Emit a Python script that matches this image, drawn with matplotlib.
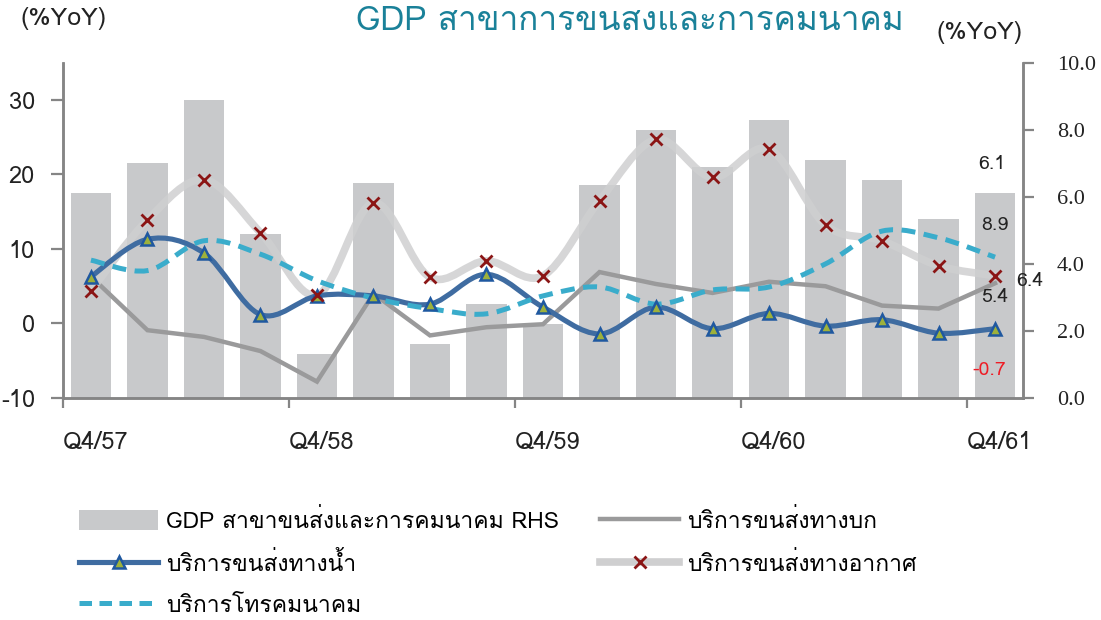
import matplotlib
matplotlib.use("Agg")
import matplotlib.pyplot as plt
import matplotlib.font_manager as fm
from matplotlib.ft2font import FT2Font
from matplotlib.path import Path
from matplotlib.patches import PathPatch, Patch
from matplotlib.lines import Line2D
import numpy as np


# find an installed font that has Thai glyphs
def find_thai_font():
    for f in fm.fontManager.ttflist:
        try:
            cmap = FT2Font(f.fname).get_charmap()
        except Exception:
            continue
        if 0x0E01 in cmap and 0x0E2A in cmap and 0x0E33 in cmap:
            return f.name
    return None


thai = find_thai_font()
fams = [thai, "DejaVu Sans"] if thai else ["DejaVu Sans"]
plt.rcParams["font.family"] = fams
plt.rcParams["axes.unicode_minus"] = False

# data (%YoY), Q4/57 .. Q4/61
quarters = ["Q4/57", "Q1/58", "Q2/58", "Q3/58", "Q4/58", "Q1/59", "Q2/59", "Q3/59",
            "Q4/59", "Q1/60", "Q2/60", "Q3/60", "Q4/60", "Q1/61", "Q2/61", "Q3/61", "Q4/61"]
gdp_transport = [6.1, 7.0, 8.9, 4.9, 1.3, 6.4, 1.6, 2.8, 2.2, 6.35, 8.0, 6.9, 8.3, 7.1, 6.5, 5.35, 6.1]
land = [6.3, -0.9, -1.8, -3.7, -7.8, 4.0, -1.6, -0.5, -0.1, 6.9, 5.3, 4.1, 5.6, 5.0, 2.4, 2.0, 5.4]
water = [6.3, 11.3, 9.45, 1.2, 3.7, 3.7, 2.6, 6.6, 2.2, -1.4, 2.2, -0.7, 1.35, -0.35, 0.5, -1.3, -0.7]
air = [4.4, 13.9, 19.3, 12.2, 3.8, 16.2, 6.2, 8.4, 6.4, 16.5, 24.7, 19.6, 23.4, 13.2, 11.1, 7.75, 6.4]
telecom = [8.5, 7.1, 11.1, 9.3, 5.75, 3.4, 2.0, 1.3, 3.7, 4.9, 2.6, 4.5, 4.9, 8.0, 12.4, 11.5, 8.9]
tick_labels = ["Q4/57", "Q4/58", "Q4/59", "Q4/60", "Q4/61"]

x = np.arange(len(quarters))


def smooth_path(xs, ys):
    # Excel-style smoothed line as cubic Bezier segments through the points
    pts = np.column_stack([xs, ys]).astype(float)
    n = len(pts)
    verts = [pts[0]]
    codes = [Path.MOVETO]
    for i in range(n - 1):
        p0 = pts[i - 1] if i > 0 else pts[i]
        p1 = pts[i]
        p2 = pts[i + 1]
        p3 = pts[i + 2] if i + 2 < n else pts[i + 1]
        c1 = p1 + (p2 - p0) / 6.0
        c2 = p2 - (p3 - p1) / 6.0
        verts += [c1, c2, p2]
        codes += [Path.CURVE4] * 3
    return Path(verts, codes)


W, H = 1101, 620
fig = plt.figure(figsize=(W / 100, H / 100), dpi=100)
ax = fig.add_axes([62.7 / W, 1 - 398 / H, (1023.3 - 62.7) / W, (398 - 62.7) / H])
ax2 = ax.twinx()
ax.set_zorder(ax2.get_zorder() + 1)
ax.patch.set_visible(False)

bar_c = "#c8c9cb"
land_c = "#9a9a9b"
water_c = "#3f6ca1"
air_c = "#cfcfd0"
tel_c = "#3aaccb"
txt_c = "#222222"

ax2.bar(x, gdp_transport, width=0.71, color=bar_c, zorder=1)

ax.plot(x, land, color=land_c, lw=3.2, solid_joinstyle="miter", zorder=2)
ax.add_patch(PathPatch(smooth_path(x, air), facecolor="none", edgecolor=air_c,
                       lw=5.5, alpha=0.85, zorder=3))
ax.add_patch(PathPatch(smooth_path(x, water), facecolor="none", edgecolor=water_c,
                       lw=3.7, zorder=4))
ax.add_patch(PathPatch(smooth_path(x, telecom), facecolor="none", edgecolor=tel_c,
                       lw=3.6, linestyle=(0, (2.8, 1.7)), zorder=5))
ax.plot(x, water, ls="none", marker="^", ms=9, mfc="#9db13c", mec="#1f58a0",
        mew=1.8, zorder=6)
ax.plot(x, air, ls="none", marker="x", ms=8, mec="#8b1515", mew=2.0, zorder=7)

ax.set_xlim(-0.5, len(quarters) - 0.5)
ax.set_ylim(-10, 35)
ax2.set_ylim(0, 10)
ax.set_yticks([-10, 0, 10, 20, 30])
ax2.set_yticks([0, 2, 4, 6, 8, 10])
ax2.set_yticklabels([f"{v:.1f}" for v in [0, 2, 4, 6, 8, 10]])

ticks = np.arange(-0.5, len(quarters), 4)
ax.set_xticks(ticks)
ax.set_xticklabels(tick_labels, ha="left")

spine_c = "#858585"
for a in (ax, ax2):
    for s in a.spines.values():
        s.set_color(spine_c)
        s.set_linewidth(1.8)
    a.spines["top"].set_visible(False)
ax.tick_params(axis="y", direction="out", length=9, width=1.6, color=spine_c,
               labelsize=17, pad=11, labelcolor=txt_c)
ax.tick_params(axis="x", direction="out", length=7, width=1.6, color=spine_c,
               labelsize=17, pad=17, labelcolor=txt_c)
ax2.tick_params(axis="y", direction="out", length=8, width=1.6, color=spine_c,
                labelsize=16, pad=16, labelcolor=txt_c)
for lab in ax2.get_yticklabels():
    lab.set_fontfamily(["Liberation Serif", "DejaVu Serif"])

# end value labels
last = len(quarters) - 1
lab_fs = 14
ax2.text(last - 0.05, gdp_transport[-1] + 0.88, f"{gdp_transport[-1]:.1f}", ha="center",
         va="center", fontsize=lab_fs, color=txt_c)
ax.text(last + 0.0, telecom[-1] + 4.3, f"{telecom[-1]:.1f}", ha="center",
        va="center", fontsize=lab_fs, color=txt_c)
ax.text(last + 0.62, air[-1] - 0.7, f"{air[-1]:.1f}", ha="center",
        va="center", fontsize=lab_fs, color=txt_c)
ax.text(last + 0.0, land[-1] - 1.8, f"{land[-1]:.1f}", ha="center",
        va="center", fontsize=lab_fs, color=txt_c)
ax.text(last - 0.1, water[-1] - 5.5, f"{water[-1]:.1f}", ha="center",
        va="center", fontsize=lab_fs, color="#ee1c25")

# titles and axis units
fig.text(630 / W, 1 - 2 / H, "GDP สาขาการขนส่งและการคมนาคม", ha="center",
         va="top", fontsize=24, color="#1a8199")
fig.text(64 / W, 1 - 19 / H, "(%YoY)", ha="center", va="center", fontsize=18,
         color=txt_c)
fig.text(980 / W, 1 - 33 / H, "(%YoY)", ha="center", va="center", fontsize=18,
         color=txt_c)

# legend
h_gdp = Patch(facecolor=bar_c, edgecolor="none")
h_land = Line2D([], [], color=land_c, lw=3.2)
h_water = Line2D([], [], color=water_c, lw=3.7, marker="^", ms=9, mfc="#9db13c",
                 mec="#1f58a0", mew=1.8)
h_air = Line2D([], [], color=air_c, lw=5.5, marker="x", ms=8, mec="#8b1515", mew=2.0)
h_tel = Line2D([], [], color=tel_c, lw=3.6, ls=(0, (2.5, 1.5)))

leg_kw = dict(frameon=False, fontsize=16.5, handlelength=3.45, handleheight=0.95,
              handletextpad=0.35, labelspacing=0.82, borderpad=0, borderaxespad=0,
              loc="upper left")
leg1 = fig.legend([h_gdp, h_water, h_tel],
                  ["GDP สาขาขนส่งและการคมนาคม RHS", "บริการขนส่งทางน้ำ", "บริการโทรคมนาคม"],
                  bbox_to_anchor=(79 / W, 1 - 509 / H), **leg_kw)
leg2 = fig.legend([h_land, h_air],
                  ["บริการขนส่งทางบก", "บริการขนส่งทางอากาศ"],
                  bbox_to_anchor=(600 / W, 1 - 509 / H), **leg_kw)

fig.savefig("out.png", dpi=100)
